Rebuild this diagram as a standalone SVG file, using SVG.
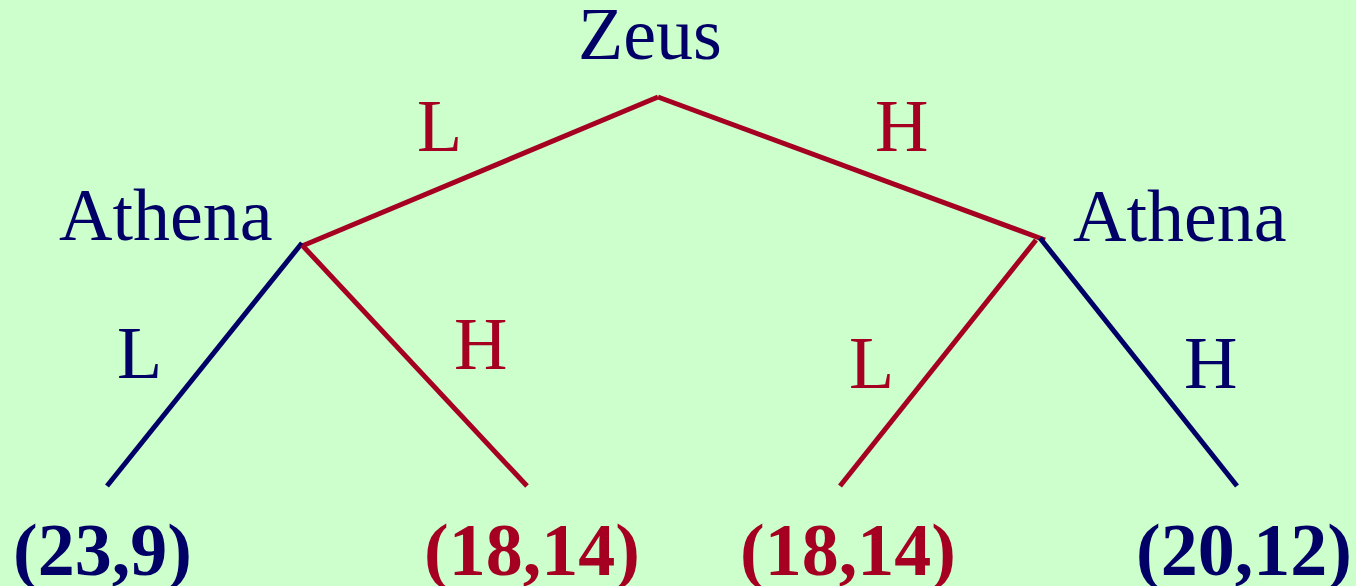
<svg xmlns="http://www.w3.org/2000/svg" width="1356" height="586" viewBox="0 0 1356 586">
<style>
text{font-family:"Liberation Serif","Times New Roman",serif;font-size:74px}
.b{fill:#000066}.r{fill:#A50021}
.pay{font-weight:bold}
.lb{stroke:#000066;stroke-width:5;fill:none}
.lr{stroke:#A50021;stroke-width:5;fill:none}
</style>
<rect width="1356" height="586" fill="#CCFFCC"/>
<g id="connectors">
<line class="lr" x1="658" y1="97" x2="302" y2="246"/>
<line class="lr" x1="658" y1="97" x2="1045" y2="240"/>
<line class="lb" x1="302" y1="243" x2="107" y2="486"/>
<line class="lr" x1="302" y1="245" x2="527" y2="486"/>
<line class="lr" x1="1036" y1="240" x2="840" y2="486"/>
<line class="lb" x1="1040" y1="238" x2="1237" y2="486"/>
<text class="r" x="417" y="151">L</text>
<text class="r" x="875" y="151">H</text>
<text class="b" x="117" y="378">L</text>
<text class="r" x="454" y="369">H</text>
<text class="r" x="849" y="388">L</text>
<text class="b" x="1184" y="388">H</text>
</g>
<g id="zeus"><text class="b" x="578" y="59">Zeus</text></g>
<g id="athena-left"><text class="b" x="59" y="240">Athena</text></g>
<g id="athena-right"><text class="b" x="1073" y="241">Athena</text></g>
<g id="payoff-ll"><text class="b pay" x="13" y="575">(23,9)</text></g>
<g id="payoff-lh"><text class="r pay" x="424" y="575">(18,14)</text></g>
<g id="payoff-hl"><text class="r pay" x="740" y="575">(18,14)</text></g>
<g id="payoff-hh"><text class="b pay" x="1136" y="575">(20,12)</text></g>
</svg>
